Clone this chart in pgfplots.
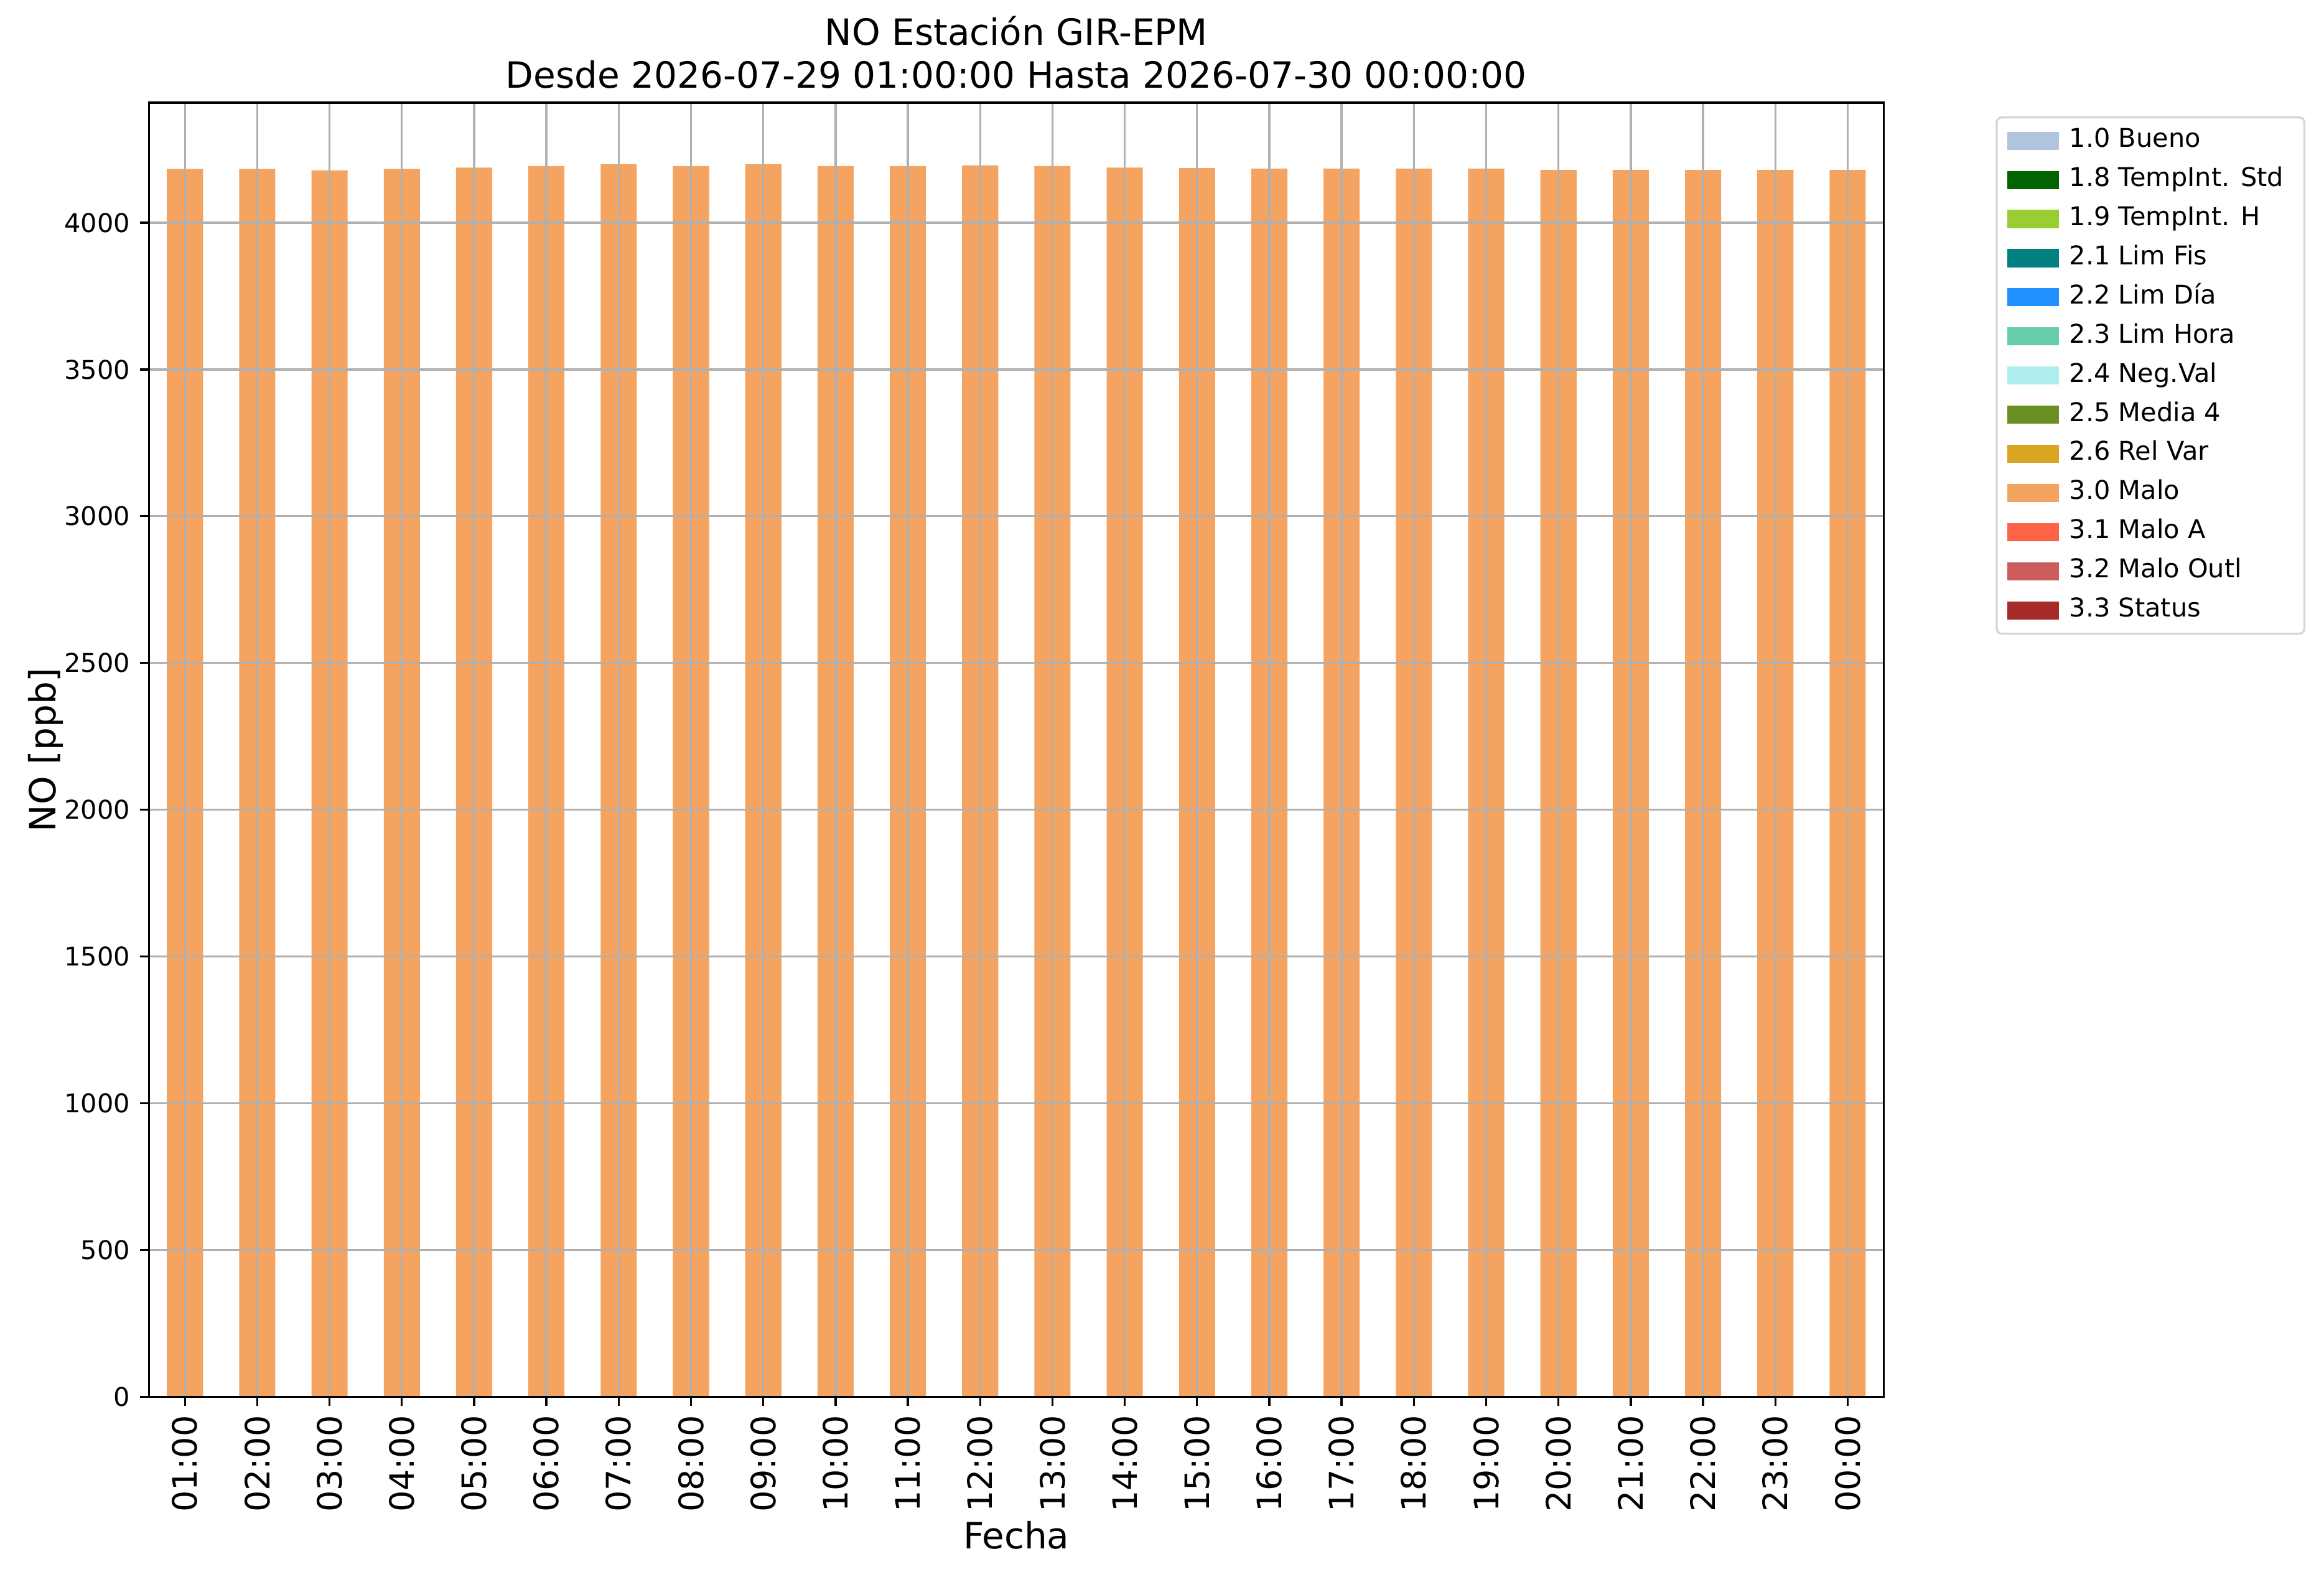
\documentclass[border=0pt]{standalone}
\usepackage{fontspec}
\setmainfont{DejaVu Sans}
\usepackage{pgfplots}
\pgfplotsset{compat=1.18}
\definecolor{c10}{HTML}{B0C4DE}
\definecolor{c18}{HTML}{006400}
\definecolor{c19}{HTML}{9ACD32}
\definecolor{c21}{HTML}{008080}
\definecolor{c22}{HTML}{1E90FF}
\definecolor{c23}{HTML}{66CDAA}
\definecolor{c24}{HTML}{AFEEEE}
\definecolor{c25}{HTML}{6B8E23}
\definecolor{c26}{HTML}{DAA520}
\definecolor{c30}{HTML}{F4A460}
\definecolor{c31}{HTML}{FF6347}
\definecolor{c32}{HTML}{CD5C5C}
\definecolor{c33}{HTML}{A52A2A}
\definecolor{gridc}{HTML}{B0B0B0}
\begin{document}
\begin{tikzpicture}
\useasboundingbox (-57.4bp,-69.3bp) rectangle (839bp,538.9bp);
\begin{axis}[
  scale only axis,
  width=669.2bp, height=499.3bp,
  xmin=-0.5, xmax=23.5,
  ymin=0, ymax=4409,
  axis on top,
  axis line style={black, line width=0.8bp},
  grid=major,
  major grid style={gridc, line width=0.8bp},
  tick align=outside,
  tick pos=left,
  major tick length=3.5bp,
  every tick/.style={black, line width=0.8bp},
  xtick={0,...,23},
  xticklabels={01:00,02:00,03:00,04:00,05:00,06:00,07:00,08:00,09:00,10:00,11:00,12:00,13:00,14:00,15:00,16:00,17:00,18:00,19:00,20:00,21:00,22:00,23:00,00:00},
  xticklabel style={font=\fontsize{13}{15}\selectfont, rotate=90, anchor=east, inner sep=0pt, xshift=-3.5bp},
  ytick={0,500,...,4000},
  yticklabel style={font=\fontsize{10}{12}\selectfont, anchor=east, inner sep=0pt, xshift=-3.5bp},
  /pgf/number format/assume math mode=true,
  /pgf/number format/1000 sep={},
  scaled y ticks=false,
  xlabel={Fecha},
  xlabel style={font=\fontsize{14}{16}\selectfont},
  ylabel={NO [ppb]},
  ylabel style={font=\fontsize{14}{16}\selectfont, yshift=-3bp},
  title={NO Estación GIR-EPM\\Desde 2026-07-29 01:00:00 Hasta 2026-07-30 00:00:00},
  title style={font=\fontsize{14}{16.5}\selectfont, align=center, yshift=-4bp},
  legend cell align=left,
  legend image code/.code={\fill[#1, draw=none, sharp corners] (0bp,-3.5bp) rectangle (20bp,3.5bp);},
  legend style={at={(1.0645,0.9894)}, anchor=north west, draw=black!16, line width=0.8bp, rounded corners=2bp,
    font=\fontsize{10}{12}\selectfont, row sep=5.1bp, inner xsep=4bp, inner ysep=4bp,
    nodes={inner xsep=4bp, inner ysep=0bp, text height=7.5bp, text depth=2.5bp}},
]
\addplot[ybar, bar width=0.5, fill=c30, draw=none, forget plot] coordinates {
(0,4183) (1,4183) (2,4178) (3,4183) (4,4188) (5,4193) (6,4199) (7,4193)
(8,4199) (9,4193) (10,4193) (11,4195) (12,4193) (13,4188) (14,4186) (15,4184)
(16,4184) (17,4184) (18,4184) (19,4180) (20,4180) (21,4180) (22,4180) (23,4180)};
\addlegendimage{fill=c10}\addlegendentry{1.0 Bueno}
\addlegendimage{fill=c18}\addlegendentry{1.8 TempInt. Std}
\addlegendimage{fill=c19}\addlegendentry{1.9 TempInt. H}
\addlegendimage{fill=c21}\addlegendentry{2.1 Lim Fis}
\addlegendimage{fill=c22}\addlegendentry{2.2 Lim Día}
\addlegendimage{fill=c23}\addlegendentry{2.3 Lim Hora}
\addlegendimage{fill=c24}\addlegendentry{2.4 Neg.Val}
\addlegendimage{fill=c25}\addlegendentry{2.5 Media 4}
\addlegendimage{fill=c26}\addlegendentry{2.6 Rel Var}
\addlegendimage{fill=c30}\addlegendentry{3.0 Malo}
\addlegendimage{fill=c31}\addlegendentry{3.1 Malo A}
\addlegendimage{fill=c32}\addlegendentry{3.2 Malo Outl}
\addlegendimage{fill=c33}\addlegendentry{3.3 Status}
\end{axis}
\end{tikzpicture}
\end{document}
